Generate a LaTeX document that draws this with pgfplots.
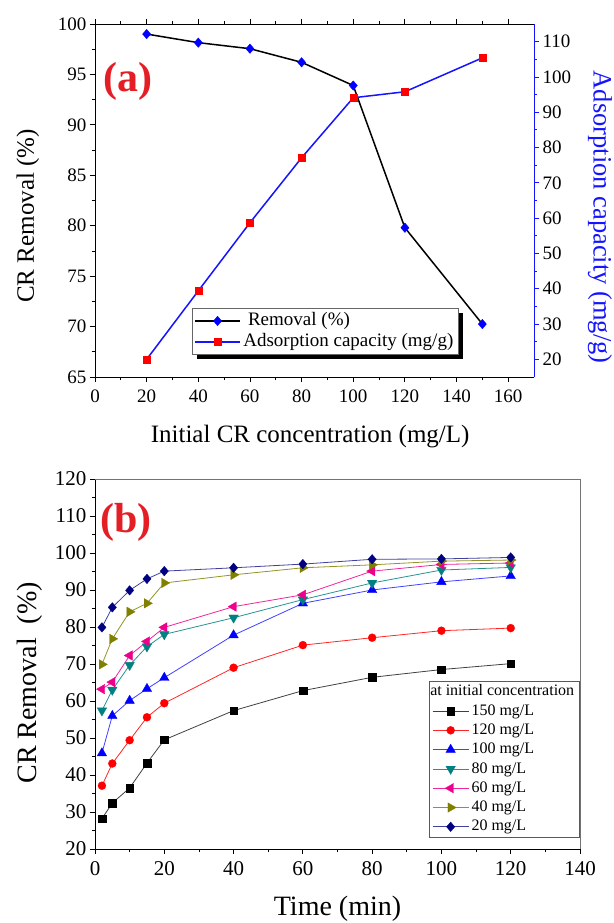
\documentclass[border=0pt]{standalone}
\usepackage{fontspec}
\setmainfont{Liberation Serif}
\usepackage{pgfplots}
\pgfplotsset{compat=1.18}
\usetikzlibrary{backgrounds}
\definecolor{myred}{RGB}{228,30,36}
\definecolor{tealc}{RGB}{0,128,128}
\definecolor{olivec}{RGB}{128,128,0}
\definecolor{navyc}{RGB}{0,0,128}
\definecolor{lblue}{RGB}{20,20,255}

\begin{document}
\begin{tikzpicture}
\useasboundingbox (0,0) rectangle (613pt,923pt);

% ---------------- Panel (a), left axis ----------------
\begin{axis}[
  at={(95pt,546pt)}, anchor=south west,
  scale only axis, width=439pt, height=353pt,
  xmin=0, xmax=170, ymin=65, ymax=100,
  xtick={0,20,...,160}, ytick={65,70,...,100},
  minor x tick num=1, minor y tick num=1,
  axis y line*=left,
  tick align=outside,
  major tick length=5pt, minor tick length=3pt,
  tick style={black, line width=0.8pt},
  axis line style={line width=0.9pt},
  /pgf/number format/assume math mode=true,
  tick label style={font=\fontsize{19}{19}\selectfont},
  xticklabel style={yshift=-4pt},
  xlabel={Initial CR concentration (mg/L)},
  ylabel={CR Removal (\%)},
  label style={font=\fontsize{25}{25}\selectfont},
  xlabel style={at={(axis description cs:0.49,-0.170)}, anchor=center},
  ylabel style={at={(axis description cs:-0.153,0.456)}, anchor=center},
  clip=false,
]
\addplot[black, line width=1.5pt, mark=diamond*, mark size=4.7pt,
  mark options={blue, fill=blue, line width=0.4pt, xscale=1.15}] coordinates {
  (20,99.0) (40,98.15) (60,97.55) (80,96.2) (100,93.9) (120,79.8) (150,70.25)
};
\node[font=\fontsize{42}{42}\selectfont\bfseries, text=myred] at (axis description cs:0.075,0.836) {(a)};
\end{axis}

% ---------------- Panel (a), right axis ----------------
\begin{axis}[
  at={(95pt,546pt)}, anchor=south west,
  scale only axis, width=439pt, height=353pt,
  xmin=0, xmax=170, ymin=15, ymax=115,
  axis x line=none, axis y line*=right,
  ytick={20,30,...,110}, minor y tick num=1,
  tick align=outside,
  major tick length=5pt, minor tick length=3pt,
  y axis line style={lblue, line width=0.9pt},
  ytick style={lblue, line width=0.8pt},
  /pgf/number format/assume math mode=true,
  yticklabel style={black, font=\fontsize{19}{19}\selectfont},
  ylabel={Adsorption capacity (mg/g)},
  ylabel style={at={(axis description cs:1.150,0.453)}, anchor=center, rotate=180,
    text=lblue, font=\fontsize{26.5}{26.5}\selectfont},
  legend cell align=left,
  legend style={at={(axis description cs:0.221,0.195)}, anchor=north west,
    name=legA,
    draw=black!60, line width=0.6pt, fill=white,
    font=\fontsize{19}{19}\selectfont,
    inner xsep=2pt, inner ysep=3pt, row sep=2pt,
    nodes={inner xsep=2.5pt, inner ysep=0pt, text height=14pt, text depth=5pt}},
  legend image code/.code={\draw[mark repeat=2,mark phase=2,#1] plot coordinates {(0pt,0pt)(22.5pt,0pt)(45pt,0pt)};},
  clip=false,
]
\addlegendimage{black, line width=1.5pt, mark=diamond*, mark size=4.7pt,
  mark options={blue, fill=blue, line width=0.4pt, xscale=1.15}}
\addlegendentry{\ Removal (\%)}
\addplot[lblue, line width=1.5pt, mark=square*, mark size=3.5pt,
  mark options={red, fill=red, line width=0.4pt}] coordinates {
  (20,20.0) (40,39.4) (60,58.7) (80,77.1) (100,94.1) (120,95.8) (150,105.4)
};
\addlegendentry{Adsorption capacity (mg/g)}
\end{axis}
\begin{scope}[on background layer]
\fill[black] ([xshift=4.5pt,yshift=-4.5pt]legA.south west) rectangle ([xshift=4.5pt,yshift=-4.5pt]legA.north east);
\end{scope}

% ---------------- Panel (b) ----------------
\begin{axis}[
  at={(95pt,74pt)}, anchor=south west,
  scale only axis, width=485pt, height=370pt,
  xmin=0, xmax=140, ymin=20, ymax=120,
  xtick={0,20,...,140}, ytick={20,30,...,120},
  minor x tick num=1, minor y tick num=1,
  axis x line*=bottom, axis y line*=left,
  tick align=outside,
  major tick length=5pt, minor tick length=3pt,
  tick style={black, line width=0.8pt},
  axis line style={line width=0.9pt},
  /pgf/number format/assume math mode=true,
  tick label style={font=\fontsize{21}{21}\selectfont},
  xticklabel style={yshift=-4pt},
  xlabel={Time (min)},
  ylabel={CR Removal~ (\%)},
  label style={font=\fontsize{28}{28}\selectfont},
  xlabel style={at={(axis description cs:0.5,-0.162)}, anchor=center},
  ylabel style={at={(axis description cs:-0.135,0.449)}, anchor=center},
  legend cell align=left,
  legend style={at={(axis description cs:1,0.454)}, anchor=north east,
    draw=black!65, line width=0.6pt, fill=white,
    font=\fontsize{16}{16}\selectfont,
    inner xsep=3pt, inner ysep=2pt, row sep=2.5pt,
    nodes={inner xsep=2.5pt, inner ysep=0pt, text height=12.5pt, text depth=4.3pt}},
  legend image code/.code={\draw[mark repeat=2,mark phase=2,#1] plot coordinates {(0pt,0pt)(18pt,0pt)(36pt,0pt)};},
  clip=false,
]
\draw[black!55, line width=0.9pt] (rel axis cs:0,1) -- (rel axis cs:1,1) -- (rel axis cs:1,0);
\node[font=\fontsize{42}{42}\selectfont\bfseries, text=myred] at (axis description cs:0.064,0.882) {(b)};

\addlegendimage{empty legend}
\addlegendentry{\hspace*{-41.3pt}at initial concentration}

\addplot[black!75, line width=0.8pt, mark=square*, mark size=3.8pt,
  mark options={black, fill=black, line width=0.3pt}] coordinates {
  (2,28.2) (5,32.4) (10,36.5) (15,43.2) (20,49.5) (40,57.4) (60,62.8) (80,66.4) (100,68.5) (120,70.1)
};
\addlegendentry{150 mg/L}
\addplot[red!85, line width=0.8pt, mark=*, mark size=4pt,
  mark options={red, fill=red, line width=0.3pt}] coordinates {
  (2,37.1) (5,43.1) (10,49.4) (15,55.6) (20,59.4) (40,69.0) (60,75.1) (80,77.1) (100,79.0) (120,79.7)
};
\addlegendentry{120 mg/L}
\addplot[blue!75, line width=0.8pt, mark=triangle*, mark size=5.5pt,
  mark options={blue, fill=blue, line width=0.3pt}] coordinates {
  (2,45.9) (5,56.0) (10,60.1) (15,63.3) (20,66.3) (40,77.8) (60,86.4) (80,90.0) (100,92.2) (120,93.8)
};
\addlegendentry{100 mg/L}
\addplot[tealc!85, line width=0.8pt, mark=triangle*, mark size=5.5pt,
  mark options={tealc, fill=tealc, line width=0.3pt, rotate=180}] coordinates {
  (2,57.4) (5,63.0) (10,69.7) (15,74.7) (20,78.0) (40,82.5) (60,87.4) (80,91.9) (100,95.4) (120,96.1)
};
\addlegendentry{80 mg/L}
\addplot[magenta!85, line width=0.8pt, mark=triangle*, mark size=5.5pt,
  mark options={magenta, fill=magenta, line width=0.3pt, rotate=90}] coordinates {
  (2,63.2) (5,65.1) (10,72.3) (15,76.1) (20,79.9) (40,85.5) (60,88.7) (80,95.1) (100,96.9) (120,97.3)
};
\addlegendentry{60 mg/L}
\addplot[olivec!85, line width=0.8pt, mark=triangle*, mark size=5.5pt,
  mark options={olivec, fill=olivec, line width=0.3pt, rotate=-90}] coordinates {
  (2,69.9) (5,76.8) (10,84.1) (15,86.4) (20,91.9) (40,94.1) (60,96.0) (80,96.8) (100,97.8) (120,98.1)
};
\addlegendentry{40 mg/L}
\addplot[navyc!75, line width=0.8pt, mark=diamond*, mark size=4.8pt,
  mark options={navyc, fill=navyc, line width=0.3pt, xscale=1.15}] coordinates {
  (2,79.9) (5,85.3) (10,89.9) (15,93.0) (20,95.1) (40,96.0) (60,97.0) (80,98.3) (100,98.4) (120,98.8)
};
\addlegendentry{20 mg/L}
\end{axis}
\end{tikzpicture}
\end{document}
